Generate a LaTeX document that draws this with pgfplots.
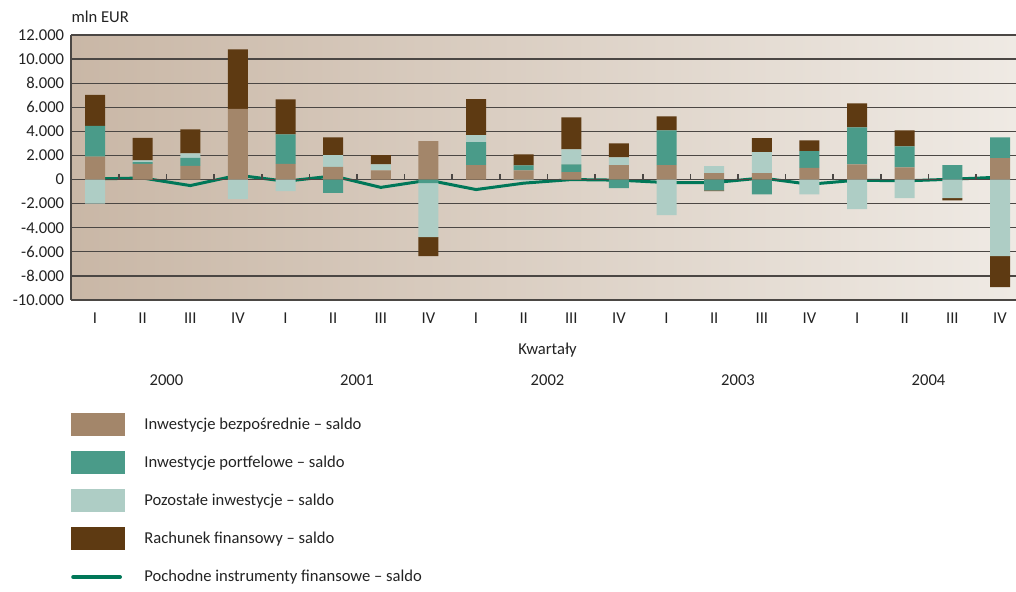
\documentclass[border=0pt]{standalone}
\usepackage{pgfplots}
\pgfplotsset{compat=1.18}
\usepackage{pgfplotstable}
\usepackage{fontspec}
\setmainfont{Carlito}
\definecolor{cB}{RGB}{163,134,106}
\definecolor{cP}{RGB}{74,155,137}
\definecolor{cO}{RGB}{174,205,197}
\definecolor{cR}{RGB}{94,58,18}
\definecolor{cL}{RGB}{0,119,88}
\definecolor{bgL}{RGB}{201,183,166}
\definecolor{bgR}{RGB}{239,234,228}
\definecolor{gridc}{RGB}{75,71,68}
\definecolor{txt}{RGB}{35,35,35}

\pgfplotstableread{
x b p o r
0 1900 2550 -2000 2570
1 1300 150 150 1850
2 1130 660 390 1990
3 5860 0 -1630 4950
4 1300 2460 -970 2900
5 1050 -1110 970 1490
6 770 0 500 750
7 3180 -300 -4480 -1580
8 1190 1910 580 2990
9 770 410 -80 910
10 610 660 1240 2660
11 1190 -720 660 1160
12 1190 2900 -2960 1160
13 530 -890 580 -80
14 530 -1220 1740 1160
15 970 1380 -1220 910
16 1270 3070 -2460 1990
17 1020 1740 -1550 1330
18 0 1190 -1550 -170
19 1770 1740 -6360 -2570
}\data

\pgfplotstableread{
x d
0 50
1 130
2 -500
3 360
4 -140
5 300
6 -650
7 -50
8 -830
9 -300
10 0
11 -50
12 -250
13 -250
14 130
15 -390
16 -50
17 -110
18 30
19 200
}\deriv

\pgfplotsset{
  common/.style={
    scale only axis, width=472.4pt, height=132.5pt,
    xmin=-0.5, xmax=19.336, ymin=-10000, ymax=12000,
    at={(0,0)}, anchor=south west,
  },
  bars/.style={common, hide axis, ybar stacked, bar width=10pt},
}

\begin{document}
\begin{tikzpicture}[font=\fontsize{8.3}{10}\selectfont, text=txt]
\begin{axis}[common,
  axis background/.style={left color=bgL, right color=bgR},
  axis x line*=bottom, axis y line*=left,
  axis line style={draw=gridc, line width=0.8pt},
  ymajorgrids, grid style={draw=gridc, line width=0.65pt},
  ytick={-10000,-8000,...,12000},
  xtick={0,...,19},
  xticklabels={I,II,III,IV,I,II,III,IV,I,II,III,IV,I,II,III,IV,I,II,III,IV},
  major tick length=0pt,
  scaled y ticks=false,
  /pgf/number format/1000 sep={.},
  /pgf/number format/assume math mode=true,
  tick label style={font=\fontsize{8.3}{10}\selectfont, text=txt},
  xticklabel style={yshift=-3pt},
  clip=false,
]
\addplot[cL, line width=1.5pt, line join=round] table[x=x,y=d] {\deriv};
\draw[gridc, line width=0.9pt] (axis cs:-0.5,0) -- (axis cs:19.336,0);
\pgfplotsinvokeforeach{0.5,1.5,...,18.5}{\draw[gridc, line width=0.8pt] (axis cs:#1,0) -- (axis cs:#1,480);}
\node[anchor=west, inner sep=0] at (axis cs:-0.5,12000) [yshift=9pt] {mln EUR};
\node at (axis cs:9.5,-10000) [yshift=-25pt] {Kwartały};
\node at (axis cs:1.5,-10000) [yshift=-40pt] {2000};
\node at (axis cs:5.5,-10000) [yshift=-40pt] {2001};
\node at (axis cs:9.5,-10000) [yshift=-40pt] {2002};
\node at (axis cs:13.5,-10000) [yshift=-40pt] {2003};
\node at (axis cs:17.5,-10000) [yshift=-40pt] {2004};
\end{axis}

\begin{axis}[bars]
\addplot[fill=cB, draw=none] table[x=x, y expr={max(\thisrow{b},0)}] {\data};
\addplot[fill=cP, draw=none] table[x=x, y expr={max(\thisrow{p},0)}] {\data};
\addplot[fill=cO, draw=none] table[x=x, y expr={max(\thisrow{o},0)}] {\data};
\addplot[fill=cR, draw=none] table[x=x, y expr={max(\thisrow{r},0)}] {\data};
\end{axis}

\begin{axis}[bars]
\addplot[fill=cB, draw=none] table[x=x, y expr={min(\thisrow{b},0)}] {\data};
\addplot[fill=cP, draw=none] table[x=x, y expr={min(\thisrow{p},0)}] {\data};
\addplot[fill=cO, draw=none] table[x=x, y expr={min(\thisrow{o},0)}] {\data};
\addplot[fill=cR, draw=none] table[x=x, y expr={min(\thisrow{r},0)}] {\data};
\end{axis}

% legend
\fill[cB] (0,-56.5pt) rectangle (26.9pt,-68pt);
\node[anchor=west, inner sep=0] at (36.4pt,-62.5pt) {Inwestycje bezpośrednie – saldo};
\fill[cP] (0,-75.5pt) rectangle (26.9pt,-87pt);
\node[anchor=west, inner sep=0] at (36.4pt,-81.5pt) {Inwestycje portfelowe – saldo};
\fill[cO] (0,-94.5pt) rectangle (26.9pt,-106pt);
\node[anchor=west, inner sep=0] at (36.4pt,-100.5pt) {Pozostałe inwestycje – saldo};
\fill[cR] (0,-113.5pt) rectangle (26.9pt,-125pt);
\node[anchor=west, inner sep=0] at (36.4pt,-119.5pt) {Rachunek finansowy – saldo};
\draw[cL, line width=2pt, line cap=round] (1pt,-138.5pt) -- (24.4pt,-138.5pt);
\node[anchor=west, inner sep=0] at (36.4pt,-138.5pt) {Pochodne instrumenty finansowe – saldo};

\pgfresetboundingbox
\useasboundingbox (-35.6pt,-145.5pt) rectangle (472.4pt,150pt);
\end{tikzpicture}
\end{document}
